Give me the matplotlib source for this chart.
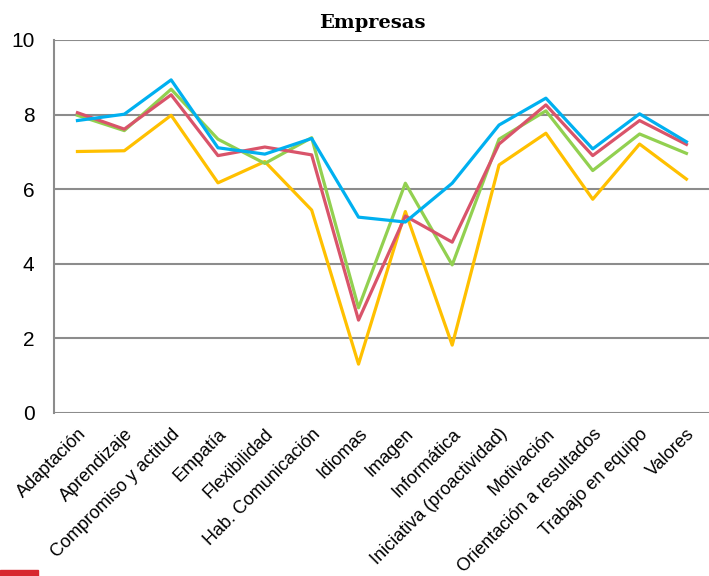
import numpy as np
import matplotlib.pyplot as plt
from matplotlib.patches import Rectangle

# competencias valoradas por las empresas
categorias = ['Adaptación', 'Aprendizaje', 'Compromiso y actitud', 'Empatía',
              'Flexibilidad', 'Hab. Comunicación', 'Idiomas', 'Imagen',
              'Informática', 'Iniciativa (proactividad)', 'Motivación',
              'Orientación a resultados', 'Trabajo en equipo', 'Valores']

serie_azul = [7.84, 8.01, 8.93, 7.11, 6.94, 7.36, 5.25, 5.12, 6.16, 7.72, 8.44, 7.08, 8.02, 7.27]
serie_roja = [8.05, 7.61, 8.53, 6.90, 7.13, 6.92, 2.49, 5.28, 4.58, 7.21, 8.26, 6.90, 7.84, 7.20]
serie_verde = [7.98, 7.57, 8.68, 7.34, 6.69, 7.38, 2.82, 6.16, 3.97, 7.34, 8.10, 6.50, 7.48, 6.96]
serie_amarilla = [7.01, 7.03, 7.98, 6.17, 6.74, 5.44, 1.31, 5.40, 1.82, 6.65, 7.50, 5.73, 7.21, 6.27]

plt.rcParams['font.family'] = ['Liberation Sans', 'DejaVu Sans']

fig = plt.figure(figsize=(7.09, 5.76), dpi=100)
ax = fig.add_axes([0.0762, 0.283, 0.925, 0.6476])

x = np.arange(len(categorias))
lw = 2.3
ax.plot(x, serie_amarilla, color='#FFC000', lw=lw, zorder=3)
ax.plot(x, serie_verde, color='#92D050', lw=lw, zorder=4)
ax.plot(x, serie_roja, color='#D9546A', lw=lw, zorder=5)
ax.plot(x, serie_azul, color='#00B0F0', lw=lw, zorder=6)

ax.set_xlim(-0.5, 13.5)
ax.set_ylim(0, 10)
ax.set_yticks([0, 2, 4, 6, 8, 10])
ax.grid(axis='y', color='#8C8C8C', lw=1.5, zorder=1)
ax.set_axisbelow(True)

for s in ['top', 'right', 'bottom']:
    ax.spines[s].set_visible(False)
ax.spines['left'].set_color('#8C8C8C')
ax.spines['left'].set_linewidth(1.5)

ax.set_xticks(x)
ax.set_xticklabels(categorias, rotation=45, ha='right', rotation_mode='anchor', fontsize=13)
ax.tick_params(axis='x', length=0, pad=9)
ax.tick_params(axis='y', length=0, labelsize=15, pad=14)

fig.text(372 / 709, 1 - 28 / 576, 'Empresas', ha='center', va='baseline',
         fontfamily='DejaVu Serif', fontweight='bold', fontsize=14)

# barra roja en la esquina inferior
fig.patches.append(Rectangle((0, 0), 38 / 709, 6 / 576, transform=fig.transFigure,
                             color='#D7282F', zorder=10))

fig.savefig('out.png', dpi=100)
